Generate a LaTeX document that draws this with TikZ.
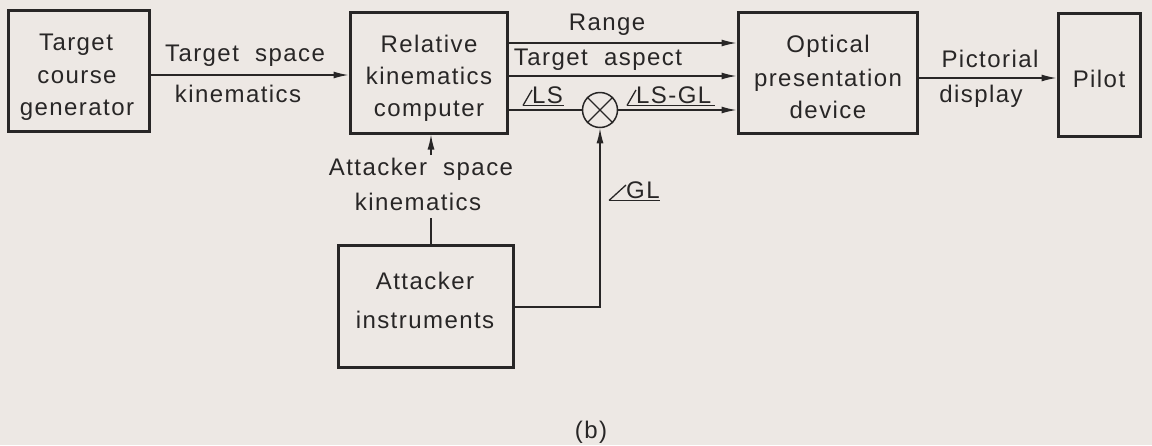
\documentclass[tikz,border=0pt]{standalone}
\usepackage{fontspec}
\setmainfont[LetterSpace=6,WordSpace=2]{Liberation Sans}
\usetikzlibrary{arrows.meta,calc}
\definecolor{paper}{RGB}{237,232,228}
\definecolor{ink}{RGB}{40,38,38}
\tikzset{
  box/.style={draw=ink, line width=3pt, inner sep=0pt},
  txt/.style={text=ink, inner sep=0pt, anchor=base, font=\fontsize{24}{30}\selectfont},
  conn/.style={draw=ink, line width=1.4pt},
  arr/.style={conn, -{Latex[length=15pt,width=7pt]}},
  uline/.style={draw=ink, line width=1.3pt},
}
\begin{document}
\begin{tikzpicture}[x=1pt,y=-1pt]
\fill[paper] (0,0) rectangle (1152,445);
\useasboundingbox (0,0) rectangle (1152,445);

% boxes
\node[box, minimum width=141pt, minimum height=121pt] (b1) at (78.5,71) {};
\node[box, minimum width=157pt, minimum height=121pt] (b2) at (428.5,72.5) {};
\node[box, minimum width=179pt, minimum height=121pt] (b3) at (827.5,72.5) {};
\node[box, minimum width=82pt, minimum height=123pt] (b4) at (1099,74.5) {};
\node[box, minimum width=175pt, minimum height=122pt] (b5) at (425.5,306) {};

% box texts
\node[txt] (b1a) at (76,50) {Target};
\node[txt] (b1b) at (77,83) {course};
\node[txt] (b1c) at (77,115) {generator};
\node[txt] (b2a) at (429,52) {Relative};
\node[txt] (b2b) at (429,84) {kinematics};
\node[txt] (b2c) at (429,116) {computer};
\node[txt] (b3a) at (828,52) {Optical};
\node[txt] (b3b) at (828,86) {presentation};
\node[txt] (b3c) at (828,118) {device};
\node[txt] (b4a) at (1099,87) {Pilot};
\node[txt] (b5a) at (425,289) {Attacker};
\node[txt] (b5b) at (425,328) {instruments};

% multiplier
\node[draw=ink, line width=1.5pt, circle, minimum size=35pt, inner sep=0pt] (m) at (600,110) {};
\draw[conn] (m.north west) -- (m.south east);
\draw[conn] (m.north east) -- (m.south west);

% connectors
\draw[arr] ([yshift=-4pt]b1.east) -- ([yshift=-4pt]b1.east -| b2.west);
\draw[arr] ([yshift=29.5pt]b2.east) -- ([yshift=29.5pt]b2.east -| b3.west);
\draw[arr] ([yshift=-3.5pt]b2.east) -- ([yshift=-3.5pt]b2.east -| b3.west);
\draw[conn] (b2.east |- m.west) -- (m.west);
\draw[arr] (m.east) -- (m.east -| b3.west);
\draw[arr] ([yshift=-5.5pt]b3.east) -- ([yshift=-5.5pt]b3.east -| b4.west);
\draw[arr] ([yshift=-1pt]b5.east) -| (m.south);

\coordinate (askTop) at (431,155);
\coordinate (askBot) at (431,218);
\draw[conn] (b5.north -| askBot) -- (askBot);
\draw[arr] (askTop) -- (askTop |- b2.south);

% labels
\node[txt] (l1) at (245,61) {Target space};
\node[txt] (l2) at (238,102) {kinematics};
\node[txt] (lr) at (607,30) {Range};
\node[txt] (lta) at (598,65) {Target aspect};
\node[txt] (ask1) at (421,175) {Attacker space};
\node[txt] (ask2) at (418,210) {kinematics};
\node[txt] (pd1) at (990,67) {Pictorial};
\node[txt] (pd2) at (981,102) {display};
\node[txt] (lb) at (591,438) {(b)};

% angle labels
\node[txt, anchor=base west] (ls) at (532,103) {LS};
\draw[uline] ([shift={(-9pt,-2.5pt)}]ls.base west) -- ([shift={(1pt,-2.5pt)}]ls.base east);
\draw[uline] ([shift={(-9pt,-2.5pt)}]ls.base west) -- ([shift={(0pt,13pt)}]ls.base west);

\node[txt, anchor=base west] (lsgl) at (636,103) {LS-GL};
\draw[uline] ([shift={(-9pt,-2.5pt)}]lsgl.base west) -- ([shift={(3pt,-2.5pt)}]lsgl.base east);
\draw[uline] ([shift={(-9pt,-2.5pt)}]lsgl.base west) -- ([shift={(0pt,13pt)}]lsgl.base west);

\node[txt, anchor=base west] (gl) at (626,198) {GL};
\draw[uline] ([shift={(-17pt,-2.5pt)}]gl.base west) -- ([shift={(0pt,-2.5pt)}]gl.base east);
\draw[uline] ([shift={(-17pt,-2.5pt)}]gl.base west) -- ([shift={(0pt,13pt)}]gl.base west);
\end{tikzpicture}
\end{document}
